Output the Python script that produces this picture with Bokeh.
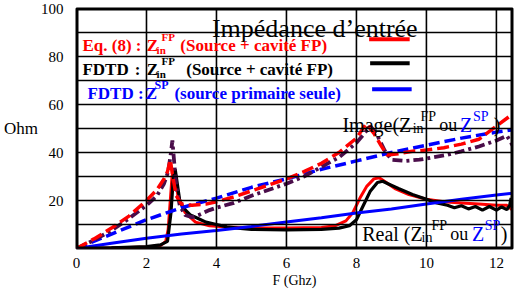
from bokeh.plotting import figure
from bokeh.models import Range1d, FixedTicker, Label
from bokeh.embed import file_html
from bokeh.resources import INLINE

# ---- data ----
f_re_eq = [0, 1, 2, 2.4, 2.55, 2.62, 2.68, 2.73, 2.78, 2.9, 3.1, 3.4, 3.8, 4.3, 5, 6, 7, 7.4, 7.7,
           7.9, 8.1, 8.3, 8.5, 8.65, 8.8, 9.1, 9.5, 10, 10.5, 11, 11.5, 12, 12.3, 12.46]
v_re_eq = [0, 0.2, 0.6, 1.2, 3, 8, 20, 30, 33, 22, 15, 11, 9.5, 9, 8.5, 8.5, 8.8, 9.5, 11.5,
           15, 21, 26, 29, 29.5, 28, 25, 22.5, 20.5, 19.5, 19, 18.5, 18, 18, 16]

f_re_fdtd = [0, 1, 2, 2.4, 2.6, 2.7, 2.76, 2.82, 2.87, 2.95, 3.05, 3.15, 3.25, 3.4, 3.55, 3.7,
             3.85, 4.0, 4.3, 4.6, 5, 6, 7, 7.5, 7.8, 8.0, 8.2, 8.4, 8.6, 8.75, 8.9, 9.2, 9.6,
             10, 10.3, 10.6, 10.8, 11.0, 11.2, 11.4, 11.6, 11.8, 12.0, 12.15, 12.3, 12.38, 12.42, 12.46]
v_re_fdtd = [0, 0.3, 0.8, 1.5, 3, 15, 28, 33, 28, 20, 17, 15.5, 14, 13, 12, 11,
             10.5, 10, 9, 8.5, 8, 7.8, 8, 8.5, 9.5, 12, 18, 24, 27.5, 28, 27, 25, 22.5,
             20.5, 19, 18, 17, 17.8, 16.5, 17.5, 16, 17.5, 16, 17.3, 16.2, 18, 21, 17]

f_im_eq = [0, 0.5, 1, 1.5, 2, 2.3, 2.5, 2.6, 2.68, 2.75, 2.85, 3.0, 3.3, 3.7, 4.0, 4.5, 5, 5.5,
           6, 6.5, 7, 7.5, 8, 8.28, 8.5, 8.7, 8.87, 9.2, 9.6, 10, 10.5, 11, 11.5, 12, 12.46]
v_im_eq = [0, 4, 8.5, 13.5, 20, 24.5, 29, 32, 37, 30, 22, 18.5, 18, 18.5, 19.5, 21.5, 24, 26.5,
           29, 32, 35.5, 40, 46, 52, 48, 43, 39, 39.5, 40.5, 41, 42, 43.5, 45.5, 51, 56]

f_im_fdtd = [0, 0.5, 1, 1.5, 2, 2.3, 2.5, 2.62, 2.7, 2.74, 2.78, 2.85, 2.95, 3.1, 3.3, 3.5, 3.8,
             4.0, 4.5, 5, 5.5, 6, 6.5, 7, 7.5, 8, 8.4, 8.6, 8.8, 9.0, 9.4, 9.8, 10.2, 10.6, 11,
             11.5, 12, 12.3, 12.46]
v_im_fdtd = [0, 3.5, 7.5, 12.5, 18, 22, 27, 32, 40, 45, 38, 26, 18, 14, 13, 14, 16,
             17, 19, 22, 24.5, 27, 30, 34, 38, 44, 51, 47, 41, 37, 36.5, 37, 38, 39, 40.5,
             42.5, 45, 47, 43]

f_sp = [0, 1, 2, 3, 4, 5, 6, 7, 8, 9, 10, 11, 12, 12.46]
v_im_sp = [0, 6, 12, 17, 21, 25.5, 29, 33, 36.5, 40, 43, 46, 48.5, 49.5]
v_re_sp = [0, 2.2, 4.3, 6, 7.5, 9.2, 11, 12.8, 14.8, 16.5, 18.5, 20.5, 22.3, 23]

XMAX = 12.46
YMAX = 100
x_ticks = [0, 2, 4, 6, 8, 10, 12]
y_ticks = [20, 40, 60, 80, 100]
y_grid = [0, 10, 20, 30, 40, 50, 60, 70, 80, 90, 100]

FONT = "Liberation Serif"
RED, BLACK, BLUE, PURPLE = "#ff0000", "#000000", "#0000ff", "#4a0d4a"

p = figure(width=517, height=290, output_backend="svg", toolbar_location=None,
           x_range=Range1d(0, XMAX), y_range=Range1d(0, YMAX),
           min_border_left=71, min_border_right=5, min_border_top=8, min_border_bottom=38)
p.outline_line_color = BLACK
p.outline_line_width = 2
p.grid.visible = False

p.xaxis.axis_line_color = None
p.yaxis.axis_line_color = None
p.xaxis.major_tick_line_color = None
p.yaxis.major_tick_line_color = None
p.xaxis.minor_tick_line_color = None
p.yaxis.minor_tick_line_color = None
p.xaxis.major_label_text_font = FONT
p.yaxis.major_label_text_font = FONT
p.xaxis.major_label_text_color = BLACK
p.yaxis.major_label_text_color = BLACK
p.xaxis.ticker = FixedTicker(ticks=x_ticks)
p.yaxis.ticker = FixedTicker(ticks=y_ticks)
p.xaxis.major_label_text_font_size = "15px"
p.yaxis.major_label_text_font_size = "15px"
p.xaxis.major_label_standoff = 3
p.yaxis.major_label_standoff = 7

p.xaxis.axis_label = "F (Ghz)"
p.xaxis.axis_label_text_font = FONT
p.xaxis.axis_label_text_font_style = "normal"
p.xaxis.axis_label_text_font_size = "14px"
p.xaxis.axis_label_text_color = BLACK
p.xaxis.axis_label_standoff = 2

p.yaxis.axis_label = "Ohm"
p.yaxis.axis_label_orientation = "horizontal"
p.yaxis.axis_label_text_font = FONT
p.yaxis.axis_label_text_font_style = "normal"
p.yaxis.axis_label_text_font_size = "17px"
p.yaxis.axis_label_text_color = BLACK
p.yaxis.axis_label_standoff = 0

# curves
p.line(f_re_eq, v_re_eq, line_color=RED, line_width=3)
p.line(f_re_fdtd, v_re_fdtd, line_color=BLACK, line_width=3.2)
p.line(f_sp, v_re_sp, line_color=BLUE, line_width=3)
p.line(f_sp, v_im_sp, line_color=BLUE, line_width=3.5, line_dash="11 5")
p.line(f_im_fdtd, v_im_fdtd, line_color=PURPLE, line_width=3.8, line_dash="10 4 3 4")
p.line(f_im_eq, v_im_eq, line_color=RED, line_width=3.5, line_dash="12 5")

# grid lines at the grid positions (frame edges wider since half is clipped)
gx = x_ticks + [XMAX]
p.segment(x0=gx, y0=[0] * len(gx), x1=gx, y1=[YMAX] * len(gx),
          line_color=BLACK, line_width=1.6)
p.segment(x0=[0] * len(y_grid), y0=y_grid, x1=[XMAX] * len(y_grid), y1=y_grid,
          line_color=BLACK, line_width=1.6)
p.segment(x0=[0, XMAX, 0, 0], y0=[0, 0, 0, YMAX], x1=[0, XMAX, XMAX, XMAX], y1=[YMAX, YMAX, 0, YMAX],
          line_color=BLACK, line_width=4)

# reference-pixel -> data helpers (frame x: 79..520 px, y: 0 at 260 px, 2.5 px / unit)
def dx(px):
    return (px - 79) / 441 * XMAX

def dy(py):
    return (260 - py) / 2.5

def lab(px, py, text, size, color=BLACK, bold=False):
    p.add_layout(Label(x=dx(px), y=dy(py), text=text, text_font=FONT,
                       text_font_size=f"{size}px", text_color=color,
                       text_font_style="bold" if bold else "normal",
                       text_baseline="alphabetic", text_align="left"))

# legend swatches
p.segment(x0=[dx(375), dx(376), dx(378)], y0=[dy(42), dy(67), dy(94)],
          x1=[dx(416), dx(416), dx(418)], y1=[dy(42), dy(67), dy(94)],
          line_color=[RED, BLACK, BLUE], line_width=4)

# title
lab(216, 31, "Impédance d’entrée", 26)

# legend texts
lab(85, 49, "Eq. (8) :", 17, RED, True)
lab(150, 49, "Z", 17, RED, True)
lab(160, 53, "in", 11, RED, True)
lab(165, 40, "FP", 11, RED, True)
lab(184, 49, "(Source + cavité FP)", 17, RED, True)

lab(85, 74, "FDTD", 17, BLACK, True)
lab(138, 74, ":", 17, BLACK, True)
lab(150, 74, "Z", 17, BLACK, True)
lab(160, 78, "in", 11, BLACK, True)
lab(165, 65, "FP", 11, BLACK, True)
lab(190, 74, "(Source + cavité FP)", 17, BLACK, True)

lab(90, 99, "FDTD :", 17, BLUE, True)
lab(149, 99, "Z", 17, BLUE, True)
lab(158, 90, "SP", 12, BLUE, True)
lab(178, 99, "(source primaire seule)", 17, BLUE, True)

# annotations
lab(348, 131, "Image(Z", 20)
lab(419, 135, "in", 14)
lab(427, 122, "FP", 14)
lab(446, 131, "ou", 18)
lab(467, 131, "Z", 20, BLUE)
lab(480, 122, "SP", 14, BLUE)
lab(501, 131, ")", 20)

lab(368, 245, "Real (Z", 20)
lab(428, 249, "in", 14)
lab(438, 236, "FP", 14)
lab(457, 245, "ou", 18)
lab(479, 245, "Z", 20, BLUE)
lab(492, 236, "SP", 14, BLUE)
lab(508, 245, ")", 20)

open("out.html", "w").write(file_html(p, INLINE))
